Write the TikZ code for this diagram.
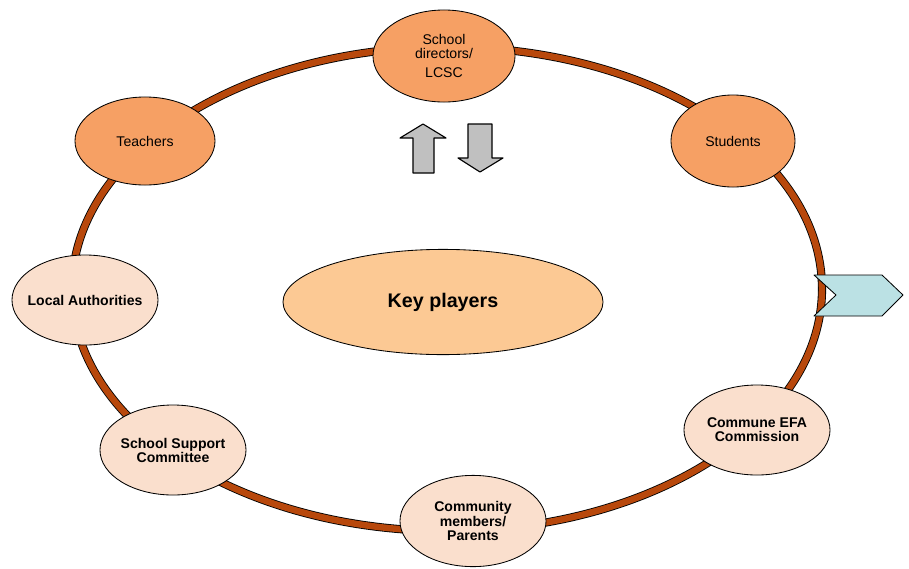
\documentclass[tikz,border=0pt]{standalone}
\usepackage{fontspec}
\setmainfont{Liberation Sans}
\usetikzlibrary{shapes.geometric}
\definecolor{ringbrown}{RGB}{184,72,12}
\definecolor{darkpeach}{RGB}{246,160,100}
\definecolor{lightpeach}{RGB}{250,223,205}
\definecolor{keypeach}{RGB}{252,201,148}
\definecolor{arrowgray}{RGB}{192,192,192}
\definecolor{chevcyan}{RGB}{187,225,228}
\begin{document}
\begin{tikzpicture}[x=.025cm, y=-.025cm, line join=round, font=\fontsize{10}{10}\selectfont,
	player/.style={ellipse, draw, line width=.6pt, minimum width=3.65cm, minimum height=2.25cm, inner sep=-14pt, align=center},
	inner/.style={player, fill=darkpeach},
	outer/.style={player, fill=lightpeach, font=\fontsize{10}{10}\selectfont\bfseries},
	blockarrow/.style={draw, line width=.8pt, fill=arrowgray}]
	\useasboundingbox (0,0) rectangle (909,568);
	% ring
	\draw[line width=.6pt, double=ringbrown, double distance=4.6pt] (447,289) ellipse [x radius=375, y radius=242];
	\draw[line width=.6pt, fill=chevcyan] (814,275)--(882,275)--(903,295)--(882,316)--(814,316)--(836,295)--cycle;
	% up and down
	\draw[blockarrow] (413,173)--(413,138)--(400,138)--(423,124)--(446,138)--(434,138)--(434,173)--cycle;
	\draw[blockarrow] (468,124)--(492,124)--(492,158)--(503,158)--(480,172)--(458,158)--(468,158)--cycle;
	\node[inner, minimum width=3.55cm, minimum height=2.3cm] (dir) at (444,56) {School\\directors/\\[4pt]LCSC};
	\node[inner, minimum width=3.5cm, minimum height=2.2cm] (teach) at (145,141) {Teachers};
	\node[inner, minimum width=3.1cm, minimum height=2.3cm] (stud) at (733,141) {Students};
	\node[outer] (local) at (85,300) {Local Authorities};
	\node[outer] (ssc) at (173,450) {School Support\\Committee};
	\node[outer, minimum height=2.28cm] (comm) at (473,521) {Community\\members/\\Parents};
	\node[outer] (efa) at (757,430) {Commune EFA\\Commission};
	\node[ellipse, draw, line width=.6pt, fill=keypeach, minimum width=8cm, minimum height=2.63cm, font=\fontsize{14}{16}\selectfont\bfseries] (key) at (443,302) {Key players};
\end{tikzpicture}
\end{document}
